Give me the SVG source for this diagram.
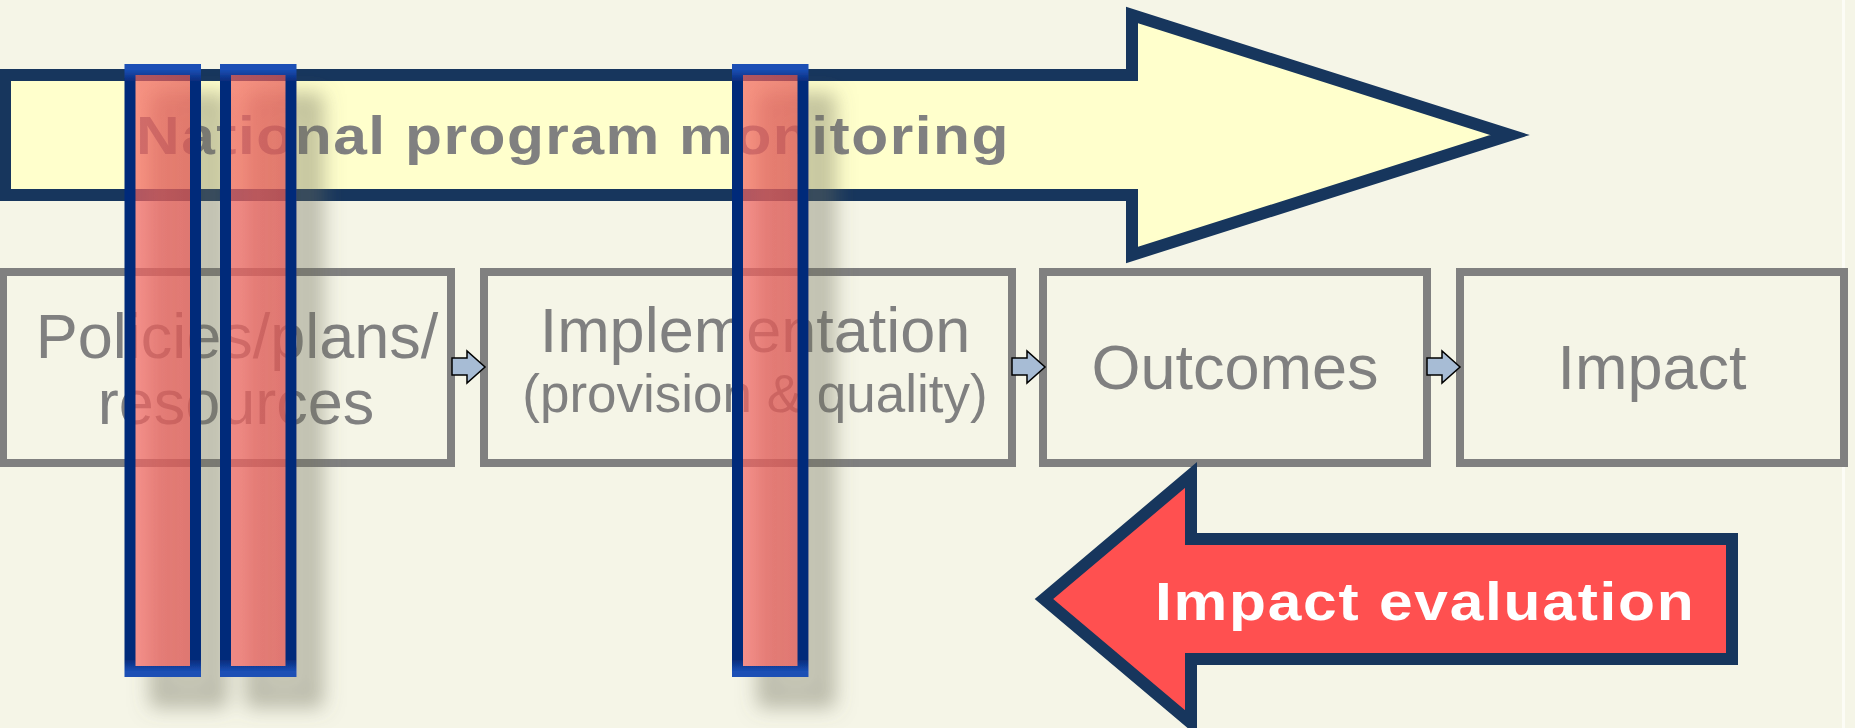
<svg xmlns="http://www.w3.org/2000/svg" width="1855" height="728" viewBox="0 0 1855 728">
  <style>
    .bigarrow { stroke: #17365D; stroke-width: 12; stroke-linejoin: miter; stroke-miterlimit: 10; }
    .box { fill: none; stroke: #808080; stroke-width: 8; }
    .boxtxt { font-family: "Liberation Sans", Arial, sans-serif; fill: #808080; text-anchor: middle; }
    .title { font-family: "Liberation Sans", Arial, sans-serif; font-weight: bold; font-size: 54px; }
    .conn { fill: #A7BCD5; stroke: #000000; stroke-width: 1.5; stroke-linejoin: miter; }
    .bar { fill: url(#barFill); stroke: url(#barStroke); stroke-width: 11; }
  </style>
  <defs>
    <linearGradient id="barFill" x1="0" y1="0" x2="1" y2="0">
      <stop offset="0" stop-color="#F46664" stop-opacity="0.7"/>
      <stop offset="1" stop-color="#E25453" stop-opacity="0.7"/>
    </linearGradient>
    <linearGradient id="barStroke" x1="0" y1="0" x2="0" y2="1">
      <stop offset="0" stop-color="#1A4FB5"/>
      <stop offset="0.02" stop-color="#062A7A"/>
      <stop offset="0.98" stop-color="#062A7A"/>
      <stop offset="1" stop-color="#1A4FB5"/>
    </linearGradient>
    <filter id="barShadow" x="-60%" y="-10%" width="220%" height="130%">
      <feDropShadow dx="26" dy="30" stdDeviation="10" flood-color="#6E6E5A" flood-opacity="0.5"/>
    </filter>
  </defs>

  <rect x="0" y="0" width="1855" height="728" fill="#F5F5E7"/>
  <rect x="1842" y="0" width="3" height="728" fill="#FCFCF6"/>

  <g id="monitoring">
    <polygon class="bigarrow" fill="#FFFFCC" points="5,75 1132,75 1132,15 1510,135 1132,255 1132,195 5,195"/>
    <text class="title" transform="translate(136,154) scale(1.12,1)" x="0" y="0" fill="#808080" textLength="779" lengthAdjust="spacing">National program monitoring</text>
  </g>

  <g id="box-policies">
    <rect class="box" x="3" y="272" width="448" height="191"/>
    <text class="boxtxt" x="237" y="358" font-size="63">Policies/plans/</text>
    <text class="boxtxt" x="236" y="424" font-size="63">resources</text>
  </g>

  <g id="box-implementation">
    <rect class="box" x="484" y="272" width="528" height="191"/>
    <text class="boxtxt" x="755" y="352" font-size="63">Implementation</text>
    <text class="boxtxt" x="755" y="412" font-size="53">(provision &amp; quality)</text>
  </g>

  <g id="box-outcomes">
    <rect class="box" x="1043" y="272" width="384" height="191"/>
    <text class="boxtxt" x="1235" y="389" font-size="63">Outcomes</text>
  </g>

  <g id="box-impact">
    <rect class="box" x="1460" y="272" width="384" height="191"/>
    <text class="boxtxt" x="1652" y="389" font-size="63">Impact</text>
  </g>

  <g id="connectors">
    <polygon class="conn" points="452,358 467,358 467,351 485,367 467,383 467,375 452,375"/>
    <polygon class="conn" points="1012,358 1027,358 1027,351 1045,367 1027,383 1027,375 1012,375"/>
    <polygon class="conn" points="1427,358 1442,358 1442,351 1460,367 1442,383 1442,375 1427,375"/>
  </g>

  <g id="impact-evaluation">
    <polygon class="bigarrow" fill="#FF5050" points="1044,599 1191,475 1191,539 1732,539 1732,659 1191,659 1191,723"/>
    <text class="title" transform="translate(1155,620) scale(1.12,1)" x="0" y="0" fill="#FFFFFF" textLength="481" lengthAdjust="spacing">Impact evaluation</text>
  </g>

  <g id="bars" filter="url(#barShadow)">
    <rect id="bar-1" class="bar" x="130" y="69.5" width="65.5" height="602"/>
    <rect id="bar-2" class="bar" x="225.5" y="69.5" width="65.5" height="602"/>
    <rect id="bar-3" class="bar" x="737.5" y="69.5" width="65.5" height="602"/>
  </g>
</svg>
